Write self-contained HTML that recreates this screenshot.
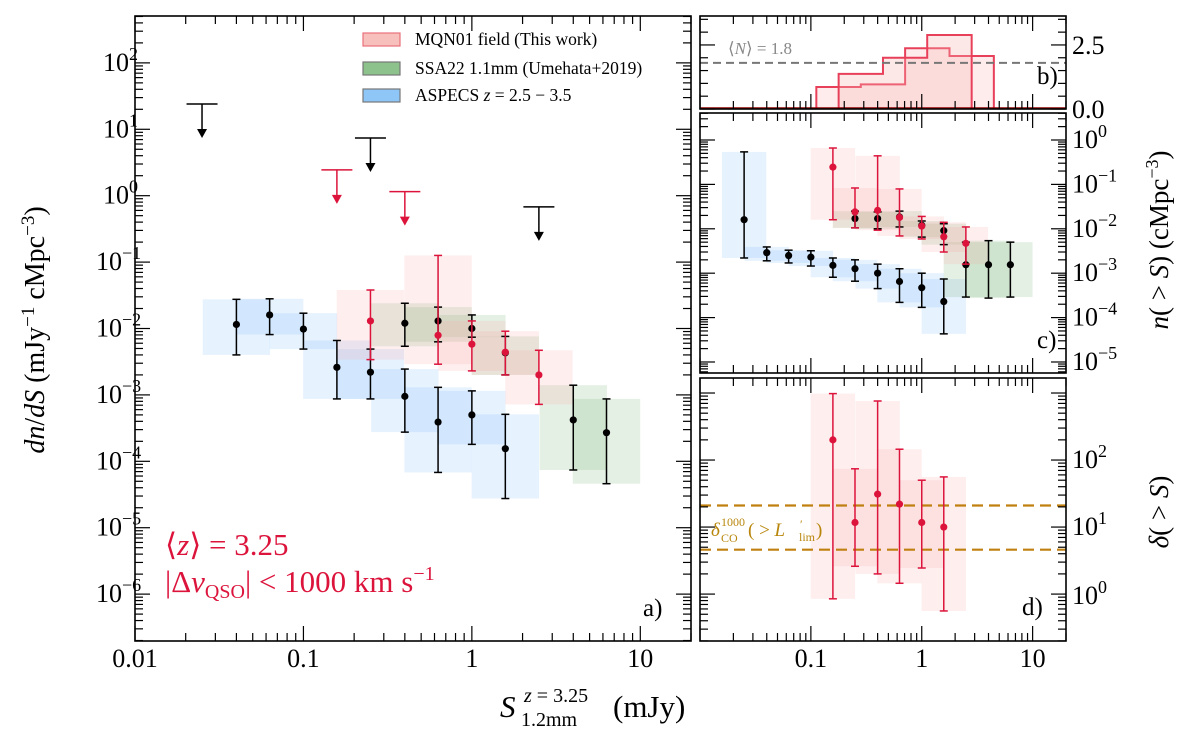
<!DOCTYPE html>
<html><head><meta charset="utf-8"><style>
html,body{margin:0;padding:0;background:#fff;}
svg{display:block;font-family:"Liberation Serif",serif;}
</style></head><body>
<svg id="fig" width="1200" height="736" viewBox="0 0 1200 736" xmlns="http://www.w3.org/2000/svg">
<g id="fills"></g>
<g id="marks"></g>
<g id="axes"></g>
<g id="legend">
  <rect x="363" y="33" width="37" height="13" fill="#f7c0bd" stroke="#e8707a" stroke-width="1.2"/>
  <text x="415" y="45" font-size="17.5">MQN01 field (This work)</text>
  <rect x="363" y="62" width="37" height="13" fill="#8dc28d" stroke="#777" stroke-width="1.2"/>
  <text x="415" y="74" font-size="17.5">SSA22 1.1mm (Umehata+2019)</text>
  <rect x="363" y="89" width="37" height="13" fill="#8ec6f7" stroke="#777" stroke-width="1.2"/>
  <text x="415" y="101" font-size="17.5">ASPECS <tspan font-style="italic">z</tspan> = 2.5 − 3.5</text>
</g>
<g>
  <text x="165" y="555" font-size="31" fill="#dc143c">⟨<tspan font-style="italic">z</tspan>⟩ = 3.25</text>
  <text x="165" y="592" font-size="31" fill="#dc143c">|Δ<tspan font-style="italic">v</tspan><tspan font-size="20" dy="6">QSO</tspan><tspan dy="-6">| &lt; 1000 km s</tspan><tspan font-size="20" dy="-12">−1</tspan></text>
  <text x="643" y="616" font-size="25">a)</text>
  <text x="1037" y="84" font-size="25">b)</text>
  <text x="1037" y="348" font-size="25">c)</text>
  <text x="1022" y="615" font-size="25">d)</text>
  <text x="728" y="54" font-size="17" fill="#888">⟨<tspan font-style="italic">N</tspan>⟩ = 1.8</text>
  <g fill="#b8860b">
    <text x="711" y="536" font-size="19" font-style="italic">δ</text>
    <text x="721" y="542" font-size="12">CO</text>
    <text x="721" y="526" font-size="12">1000</text>
    <text x="748" y="536" font-size="19">( &gt; <tspan font-style="italic">L</tspan></text>
    <text x="800" y="528" font-size="12">′</text>
    <text x="799" y="541" font-size="12">lim</text>
    <text x="816" y="536" font-size="19">)</text>
  </g>
  <text transform="translate(44,330) rotate(-90)" text-anchor="middle" font-size="28"><tspan font-style="italic">dn</tspan>/<tspan font-style="italic">dS</tspan> (mJy<tspan font-size="19" dy="-10">−1</tspan><tspan dy="10"> cMpc</tspan><tspan font-size="19" dy="-10">−3</tspan><tspan dy="10">)</tspan></text>
  <g>
    <text x="500" y="717" font-size="31" font-style="italic">S</text>
    <text x="524" y="702" font-size="20"><tspan font-style="italic">z</tspan> = 3.25</text>
    <text x="521" y="726" font-size="20">1.2mm</text>
    <text x="613" y="717" font-size="31">(mJy)</text>
  </g>
  <text transform="translate(1168,240) rotate(-90)" text-anchor="middle" font-size="27"><tspan font-style="italic">n</tspan>( &gt; <tspan font-style="italic">S</tspan>) (cMpc<tspan font-size="18" dy="-10">−3</tspan><tspan dy="10">)</tspan></text>
  <text transform="translate(1168,512) rotate(-90)" text-anchor="middle" font-size="27"><tspan font-style="italic">δ</tspan>( &gt; <tspan font-style="italic">S</tspan>)</text>
</g>
</svg>
<script>
// ---------- Panel a: dn/dS ----------
const aspecsA_x  = [0.04,0.063,0.1,0.158,0.25,0.4,0.63,1,1.58];
const aspecsA_y  = [1.15e-2,1.6e-2,9.8e-3,2.6e-3,2.2e-3,9.5e-4,3.9e-4,5.0e-4,1.55e-4];
const aspecsA_lo = [4.0e-3,8.1e-3,4.9e-3,8.7e-4,8.7e-4,2.75e-4,6.8e-5,1.8e-4,2.75e-5];
const aspecsA_hi = [2.75e-2,2.8e-2,1.7e-2,6.6e-3,4.9e-3,2.45e-3,1.3e-3,1.15e-3,5.1e-4];
const ssaA_x  = [0.4,0.63,1,1.58,4,6.3];
const ssaA_y  = [1.2e-2,1.3e-2,1.0e-2,4.3e-3,4.2e-4,2.7e-4];
const ssaA_lo = [5.4e-3,6.3e-3,7.4e-3,2.0e-3,7.4e-5,4.6e-5];
const ssaA_hi = [2.4e-2,2.1e-2,1.6e-2,7.6e-3,1.4e-3,8.7e-4];
const mqnA_x  = [0.25,0.63,1,1.58,2.5];
const mqnA_y  = [1.3e-2,7.9e-3,5.8e-3,4.4e-3,2.0e-3];
const mqnA_lo = [3.4e-3,2.9e-3,2.3e-3,2.0e-3,7.2e-4];
const mqnA_hi = [3.8e-2,0.126,1.3e-2,9.1e-3,4.7e-3];
const limBlack_x = [0.025,0.25,2.5];
const limBlack_y = [24,7.4,0.68];
const limRed_x = [0.158,0.4];
const limRed_y = [2.45,1.15];
// ---------- Panel b: histograms ----------
const histA_edges = [0.112,0.282,0.708,1.78,4.47];
const histA_vals  = [0.86,0.96,2.37,2.07];
const histB_edges = [0.178,0.447,1.12,2.82];
const histB_vals  = [1.37,2.0,2.89];
const meanN = [1.8];
// ---------- Panel c: n(>S) ----------
const aspecsC_x  = [0.025,0.04,0.063,0.1,0.158,0.25,0.4,0.63,1,1.58];
const aspecsC_y  = [1.6e-2,2.9e-3,2.5e-3,2.3e-3,1.5e-3,1.26e-3,1.0e-3,6.5e-4,4.7e-4,2.3e-4];
const aspecsC_lo = [2.2e-3,1.9e-3,1.7e-3,1.45e-3,8.1e-4,6.6e-4,4.5e-4,2.2e-4,1.7e-4,4.3e-5];
const aspecsC_hi = [0.54,3.9e-3,3.3e-3,3.2e-3,2.2e-3,2.0e-3,1.6e-3,1.26e-3,1.0e-3,7.4e-4];
const ssaC_x  = [0.25,0.4,0.63,1,1.58,2.5,4,6.3];
const ssaC_y  = [1.7e-2,1.7e-2,1.85e-2,1.2e-2,9.1e-3,1.55e-3,1.55e-3,1.55e-3];
const ssaC_lo = [1.05e-2,1.0e-2,1.1e-2,6.5e-3,4.4e-3,2.9e-4,2.75e-4,2.9e-4];
const ssaC_hi = [2.5e-2,2.4e-2,2.5e-2,1.5e-2,1.3e-2,5.0e-3,5.4e-3,5.0e-3];
const mqnC_x  = [0.158,0.25,0.4,0.63,1,1.58,2.5];
const mqnC_y  = [0.245,2.4e-2,2.6e-2,1.8e-2,1.15e-2,6.6e-3,4.7e-3];
const mqnC_lo = [1.6e-2,1.05e-2,9.3e-3,6.9e-3,5.9e-3,3.0e-3,1.6e-3];
const mqnC_hi = [0.66,8.3e-2,0.44,7.9e-2,1.9e-2,1.4e-2,1.1e-2];
// ---------- Panel d: delta(>S) ----------
const mqnD_x  = [0.158,0.25,0.4,0.63,1,1.58];
const mqnD_y  = [200,11.7,31,22,11.7,10];
const mqnD_lo = [0.85,2.6,2.0,1.45,2.45,0.56];
const mqnD_hi = [980,74,760,145,50,56];
const deltaCO = [21,4.6];

const NS = "http://www.w3.org/2000/svg";
const fills = document.getElementById('fills');
const marks = document.getElementById('marks');
const axes = document.getElementById('axes');
function mk(tag, attrs, parent){ const e=document.createElementNS(NS,tag); for(const k in attrs) e.setAttribute(k,attrs[k]); parent.appendChild(e); return e; }

function logScale(lo,hi,p0,p1){ const a=Math.log10(lo), b=Math.log10(hi); return v => p0+(Math.log10(v)-a)/(b-a)*(p1-p0); }
function linScale(lo,hi,p0,p1){ return v => p0+(v-lo)/(hi-lo)*(p1-p0); }

const P = {
  a:{x0:135,x1:691,y0:16,y1:641},
  b:{x0:700,x1:1066,y0:16,y1:109},
  c:{x0:700,x1:1066,y0:113,y1:373},
  d:{x0:700,x1:1066,y0:378,y1:641}
};
const xA = logScale(0.01,20,P.a.x0,P.a.x1);
const yA = logScale(Math.pow(10,-6.706),Math.pow(10,2.706),P.a.y1,P.a.y0);
const xR = logScale(0.01,20,P.b.x0,P.b.x1);
const yB = linScale(0,3.63,P.b.y1,P.b.y0);
const yC = logScale(Math.pow(10,-5.248),Math.pow(10,0.608),P.c.y1,P.c.y0);
const yD = logScale(Math.pow(10,-0.70),Math.pow(10,3.224),P.d.y1,P.d.y0);
const DEX = Math.pow(10,0.2);

const COL = {
  mqn:{fill:'rgba(250,170,170,0.20)', pt:'#dc143c'},
  ssa:{fill:'rgba(120,180,120,0.20)', pt:'#000'},
  asp:{fill:'rgba(130,190,250,0.20)', pt:'#000'}
};

function series(xs,ys,los,his,xs_,ys_,c,name){
  for(let i=0;i<xs.length;i++){
    const xl=xs_(xs[i]/DEX), xr=xs_(xs[i]*DEX), yt=ys_(his[i]), yb=ys_(los[i]);
    const r=mk('rect',{x:xl,y:yt,width:xr-xl,height:yb-yt,fill:c.fill},fills);
    
    
    const cx=xs_(xs[i]), cy=ys_(ys[i]);
    const g=mk('g',{stroke:c.pt,'stroke-width':1.5},marks);
    
    
    mk('line',{x1:cx,x2:cx,y1:yt,y2:yb},g);
    mk('line',{x1:cx-4,x2:cx+4,y1:yt,y2:yt},g);
    mk('line',{x1:cx-4,x2:cx+4,y1:yb,y2:yb},g);
    mk('circle',{cx:cx,cy:cy,r:3.6,fill:c.pt,stroke:'none'},g);
  }
}
function limits(xs,ys,col,name){
  for(let i=0;i<xs.length;i++){
    const cx=xA(xs[i]), cy=yA(ys[i]);
    const g=mk('g',{stroke:col,'stroke-width':1.5,fill:col},marks);
    
    
    mk('line',{x1:cx-15.5,x2:cx+15.5,y1:cy,y2:cy},g);
    mk('line',{x1:cx,x2:cx,y1:cy,y2:cy+27},g);
    mk('polygon',{points:`${cx-5},${cy+25} ${cx+5},${cy+25} ${cx},${cy+34}`,stroke:'none'},g);
  }
}

series(aspecsA_x,aspecsA_y,aspecsA_lo,aspecsA_hi,xA,yA,COL.asp,'aspecs-dnds');
series(ssaA_x,ssaA_y,ssaA_lo,ssaA_hi,xA,yA,COL.ssa,'ssa22-dnds');
series(mqnA_x,mqnA_y,mqnA_lo,mqnA_hi,xA,yA,COL.mqn,'mqn01-dnds');
limits(limBlack_x,limBlack_y,'#000','upper-limit-black');
limits(limRed_x,limRed_y,'#dc143c','upper-limit-red');

function hist(edges,vals,fill,name){
  let d=`M${xR(edges[0])},${yB(0)}`;
  for(let i=0;i<vals.length;i++){ d+=` L${xR(edges[i])},${yB(vals[i])} L${xR(edges[i+1])},${yB(vals[i])}`; }
  d+=` L${xR(edges[edges.length-1])},${yB(0)}`;
  const p=mk('path',{d:d,fill:fill,stroke:'#e8405a','stroke-width':2},marks);
  
  
}
hist(histA_edges,histA_vals,'rgba(250,180,180,0.25)','histogram-a');
hist(histB_edges,histB_vals,'rgba(250,180,180,0.3)','histogram-b');
const baseL=mk('line',{x1:P.b.x0,x2:P.b.x1,y1:yB(0)-1,y2:yB(0)-1,stroke:'#8b0000','stroke-width':1.5},marks);


const mline=mk('line',{x1:P.b.x0,x2:P.b.x1,y1:yB(meanN[0]),y2:yB(meanN[0]),stroke:'#777','stroke-width':2,'stroke-dasharray':'8,5'},marks);



series(aspecsC_x,aspecsC_y,aspecsC_lo,aspecsC_hi,xR,yC,COL.asp,'aspecs-cumulative');
series(ssaC_x,ssaC_y,ssaC_lo,ssaC_hi,xR,yC,COL.ssa,'ssa22-cumulative');
series(mqnC_x,mqnC_y,mqnC_lo,mqnC_hi,xR,yC,COL.mqn,'mqn01-cumulative');

for(const v of deltaCO){
  const l=mk('line',{x1:P.d.x0,x2:P.d.x1,y1:yD(v),y2:yD(v),stroke:'#c08010','stroke-width':2.2,'stroke-dasharray':'11,6'},marks);
  
  
}
series(mqnD_x,mqnD_y,mqnD_lo,mqnD_hi,xR,yD,COL.mqn,'mqn01-overdensity');

function frame(p,name){
  const r=mk('rect',{x:p.x0,y:p.y0,width:p.x1-p.x0,height:p.y1-p.y0,fill:'none',stroke:'#000','stroke-width':1.6},axes);
  
  
}
function tick(x1,y1,x2,y2){ mk('line',{x1:x1,y1:y1,x2:x2,y2:y2,stroke:'#000','stroke-width':1.2},axes); }
function logTicksX(p,sx){
  for(let e=-2;e<=1;e++){ for(let m=1;m<10;m++){ const v=m*Math.pow(10,e); if(v>20) continue; const x=sx(v); const L=m===1?15:8;
    tick(x,p.y0,x,p.y0+L); tick(x,p.y1,x,p.y1-L);} }
}
function logTicksY(p,sy,lo,hi){
  for(let e=lo;e<=hi;e++){ for(let m=1;m<10;m++){ const v=m*Math.pow(10,e); const y=sy(v); if(y<p.y0-0.5||y>p.y1+0.5) continue; const L=m===1?15:8;
    tick(p.x0,y,p.x0+L,y); tick(p.x1,y,p.x1-L,y);} }
}
frame(P.a,'panel-a-frame'); frame(P.b,'panel-b-frame'); frame(P.c,'panel-c-frame'); frame(P.d,'panel-d-frame');
logTicksX(P.a,xA); logTicksX(P.b,xR); logTicksX(P.c,xR); logTicksX(P.d,xR);
logTicksY(P.a,yA,-7,2); logTicksY(P.c,yC,-6,0); logTicksY(P.d,yD,-1,3);
for(let v=0;v<=3.5;v+=0.5){ const y=yB(v); const L=(v===0||v===2.5)?15:8; tick(P.b.x0,y,P.b.x0+L,y); tick(P.b.x1,y,P.b.x1-L,y); }

function label(x,y,txt,anchor,name,sup){
  const t=mk('text',{x:x,y:y,'font-size':26,'text-anchor':anchor},axes);
  
  
  t.textContent=txt;
  if(sup!==undefined){ const s=mk('tspan',{'font-size':18,dy:-11},t); s.textContent=sup; }
  return t;
}
const xtickVals=[0.01,0.1,1,10], xtickText=['0.01','0.1','1','10'];
xtickVals.forEach((v,i)=>{ label(xA(v),667,xtickText[i],'middle','x-tick-label-a'); });
xtickVals.forEach((v,i)=>{ if(i>0) label(xR(v),667,xtickText[i],'middle','x-tick-label-d'); });
const yExpA=[2,1,0,-1,-2,-3,-4,-5,-6];
yExpA.forEach(e=>{ const s=e<0?'−'+(-e):String(e); label(e<0?96:103,yA(Math.pow(10,e))+8,'10','start','y-tick-label-a',s); });
const yExpC=[0,-1,-2,-3,-4,-5];
yExpC.forEach(e=>{ const s=e<0?'−'+(-e):String(e); label(1072,yC(Math.pow(10,e))+8,'10','start','y-tick-label-c',s); });
const yExpD=[2,1,0];
yExpD.forEach(e=>{ label(1072,yD(Math.pow(10,e))+8+(e===0?2:0),'10','start','y-tick-label-d',String(e)); });
const yTickB=[0,2.5], yTickBText=['0.0','2.5'];
yTickB.forEach((v,i)=>{ label(1072,yB(v)+9,yTickBText[i],'start','y-tick-label-b'); });
</script>
</body></html>
